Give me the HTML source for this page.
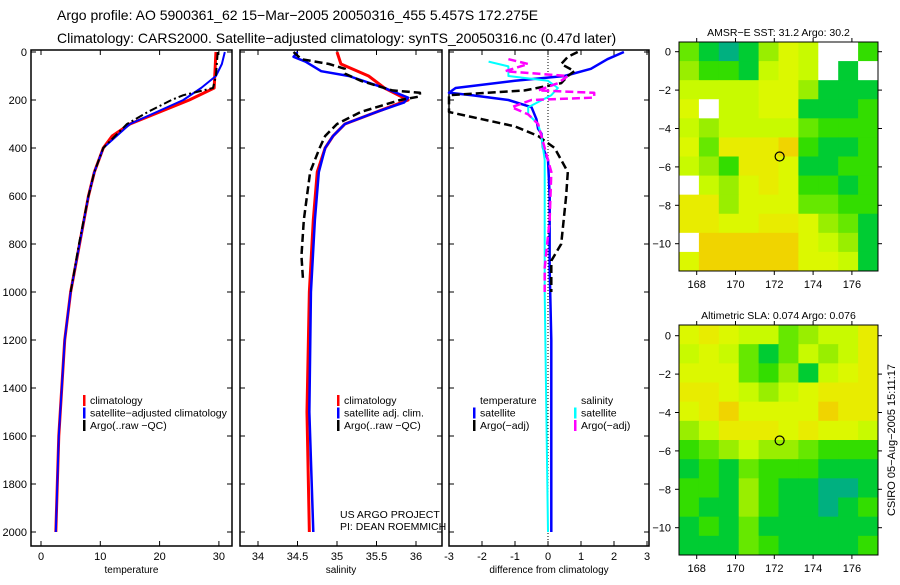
<!DOCTYPE html>
<html><head><meta charset="utf-8"><style>
body{margin:0;background:#fff;width:900px;height:580px;overflow:hidden}
svg{font-family:"Liberation Sans",sans-serif}
</style></head><body>
<svg id="c" width="900" height="580">
<text x="57" y="20" font-size="14">Argo profile: AO 5900361_62 15−Mar−2005 20050316_455 5.457S 172.275E</text>
<text x="57" y="43" font-size="14">Climatology: CARS2000. Satellite−adjusted climatology: synTS_20050316.nc (0.47d later)</text>
</svg>
<script>
// ---- data ----
const tClimD=[0,150,200,250,300,350,400,500,600,800,1000,1200,1400,1600,2000];
const tClimV=[29.5,29.2,25,20,15,12,10.5,9,8,6.5,5,4,3.5,3,2.5];
const tSatD=[0,50,100,150,200,250,300,400,500,600,800,1000,1200,1400,1600,2000];
const tSatV=[31,30.5,29.5,27,24,19.5,15,10.5,9,8,6.5,5,4,3.5,3,2.5];
const tArgoD=[0,100,150,180,200,250,300,400,500,600,800,1000];
const tArgoV=[29.8,29.5,29,24,22,18,14.5,10.5,9,8,6.4,5];
const sClimD=[0,50,100,150,200,250,300,350,400,500,700,1000,1500,2000];
const sClimV=[35,35.05,35.4,35.6,35.9,35.5,35.1,34.95,34.85,34.75,34.7,34.65,34.62,34.65];
const sSatD=[0,20,40,80,100,150,190,210,250,300,350,400,500,700,1000,1500,2000];
const sSatV=[34.5,34.45,34.6,34.8,35.15,35.6,35.9,35.85,35.5,35.1,34.95,34.85,34.77,34.72,34.67,34.65,34.7];
const sArgoD=[0,30,50,70,90,120,160,170,185,200,250,300,350,400,500,700,850,950];
const sArgoV=[34.45,34.55,34.9,35.1,35.1,35.3,35.7,36.05,36.05,35.8,35.3,35.0,34.85,34.78,34.66,34.58,34.55,34.57];
const dTSatD=[0,30,70,100,120,150,170,180,200,230,280,320,340,400,450,600,900,1200,2000];
const dTSatV=[2.3,1.8,1.3,0.5,-1,-2.8,-3,-2.3,-1.2,-0.5,-0.35,-0.3,-0.2,-0.15,0,0.05,0.05,0.1,0.1];
const dTArgoD=[0,20,50,80,100,130,160,180,250,280,310,350,400,450,500,600,800,870,1000];
const dTArgoV=[0.9,0.6,0.4,0.8,0.6,0.4,-0.7,-3,-3,-2,-1,-0.3,0.2,0.4,0.6,0.55,0.4,0.1,0.1];
const dSSatD=[40,60,100,120,150,180,230,260,300,350,450,600,1000,2000];
const dSSatV=[-1.8,-1.2,-1.2,0,0.3,0.1,-0.6,-0.6,-0.3,-0.2,-0.1,-0.1,-0.1,0];
const dSArgoD=[30,50,80,100,130,160,170,190,200,230,260,300,400,500,700,900,1000];
const dSArgoV=[-1.2,-0.6,-1.3,0.6,0.3,-0.3,1.4,1.4,-0.5,-1.1,-0.6,-0.3,-0.1,0.1,0.05,-0.1,-0.1];
const depthTicks=[0,200,400,600,800,1000,1200,1400,1600,1800,2000];
const tTicks=[0,10,20,30];
const sTicks=[34,34.5,35,35.5,36];
const sTickLabels=["34","34.5","35","35.5","36"];
const dTicks=[-3,-2,-1,0,1,2,3];
const map1=["3101465ww2","4221565w1w","5555664111","6w55661112","5455553222","6377782112","5427761122","w546762212","7746663322","7766776431","w888886541","6888886651"];
const map2=["6765534557","5653135457","6663241567","7765456777","6786666877","4577767665","2345443222","1213222111","2214211001","2114211012","1213111111","1113211112"];
const lonTicks=[168,170,172,174,176];
const latTicks=[0,-2,-4,-6,-8,-10];
// ---- drawing ----
const NS="http://www.w3.org/2000/svg",svg=document.getElementById('c');
function mk(t,a,p){const e=document.createElementNS(NS,t);for(const k in a)e.setAttribute(k,a[k]);(p||svg).appendChild(e);return e;}
const yD=d=>52+d*0.24;
function panel(name,x0,x1,xf,ticks,labels,xlabel,showY){
  const g=mk('g',{});
  
  
  const r=mk('rect',{x:x0,y:50,width:x1-x0,height:496,fill:'none',stroke:'#000','stroke-width':1.5},g);
  
  
  ticks.forEach((v,i)=>{const x=xf(v);
    mk('line',{x1:x,x2:x,y1:546,y2:541,stroke:'#000'},g);mk('line',{x1:x,x2:x,y1:50,y2:55,stroke:'#000'},g);
    const t=mk('text',{x:x,y:560,'font-size':11,'text-anchor':'middle'},g);t.textContent=labels[i];
    
    });
  depthTicks.forEach(d=>{const y=yD(d);
    mk('line',{x1:x0,x2:x0+5,y1:y,y2:y,stroke:'#000'},g);mk('line',{x1:x1,x2:x1-5,y1:y,y2:y,stroke:'#000'},g);
    if(showY){const t=mk('text',{x:x0-4,y:y+4,'font-size':11,'text-anchor':'end'},g);t.textContent=d;
    
    }});
  const xl=mk('text',{x:(x0+x1)/2,y:573,'font-size':10,'text-anchor':'middle'},g);xl.textContent=xlabel;
  
  
}
function line(name,D,V,xf,col,w,dash){
  const p=mk('polyline',{points:D.map((d,i)=>xf(V[i])+','+yD(d)).join(' '),fill:'none',stroke:col,'stroke-width':w,'stroke-dasharray':dash||'none','stroke-linejoin':'round'});
  
  
}
const xT=v=>41+v*5.93, xS=v=>337+(v-35)*79, xDf=v=>548+v*33;
panel('temperature-panel',31,232,xT,tTicks,tTicks.map(String),'temperature',true);
panel('salinity-panel',240,442,xS,sTicks,sTickLabels,'salinity',false);
panel('difference-panel',449,649,xDf,dTicks,dTicks.map(String),'difference from climatology',false);
const zl=mk('line',{x1:xDf(0),x2:xDf(0),y1:50,y2:546,stroke:'#000','stroke-dasharray':'1,2'});


line('temp-climatology',tClimD,tClimV,xT,'#f00',3);
line('temp-satellite',tSatD,tSatV,xT,'#00f',2);
line('temp-argo',tArgoD,tArgoV,xT,'#000',2,'8,3,2,3');
line('sal-climatology',sClimD,sClimV,xS,'#f00',3);
line('sal-satellite',sSatD,sSatV,xS,'#00f',2.5);
line('sal-argo',sArgoD,sArgoV,xS,'#000',2.5,'8,4');
line('diff-temp-satellite',dTSatD,dTSatV,xDf,'#00f',2.5);
line('diff-temp-argo',dTArgoD,dTArgoV,xDf,'#000',2.5,'8,4');
line('diff-sal-satellite',dSSatD,dSSatV,xDf,'#0ff',2);
line('diff-sal-argo',dSArgoD,dSArgoV,xDf,'#f0f',2.5,'8,4');
function legend(items,x,y){items.forEach((it,i)=>{const yy=y+i*12.5;
  if(it[1]){const m=mk('rect',{x:x,y:yy-9,width:2.5,height:11,fill:it[1]});
  
  }
  const t=mk('text',{x:x+7,y:yy,'font-size':10.5});t.textContent=it[0];
  
  });}
legend([['climatology','#f00'],['satellite−adjusted climatology','#00f'],['Argo(..raw −QC)','#000']],83,404);
legend([['climatology','#f00'],['satellite adj. clim.','#00f'],['Argo(..raw −QC)','#000']],337,404);
legend([['temperature',null],['satellite','#00f'],['Argo(−adj)','#000']],473,404);
legend([['salinity',null],['satellite','#0ff'],['Argo(−adj)','#f0f']],574,404);
[['US ARGO PROJECT',518],['PI: DEAN ROEMMICH',530]].forEach(a=>{const t=mk('text',{x:340,y:a[1],'font-size':10.5});t.textContent=a[0];
  
  });
const pal={'0':'#00b080','1':'#00cc33','2':'#33dd00','3':'#66e800','4':'#99ee00','5':'#c8fa00','6':'#dcf800','7':'#e8ec00','8':'#f0d400','9':'#f0a800','w':'#fff'};
function map(name,grid,top,bot,lat0,title){
  const x0=679,x1=878,lonf=v=>696.7+(v-168)*19.4,latf=v=>lat0-v*19.2;
  const g=mk('g',{});
  
  
  const cw=(x1-x0)/grid[0].length,ch=(bot-top)/grid.length;
  grid.forEach((row,r)=>[...row].forEach((c,k)=>{const cell=mk('rect',{x:x0+k*cw,y:top+r*ch,width:cw+0.5,height:ch+0.5,fill:pal[c]},g);
    
    }));
  mk('rect',{x:x0,y:top,width:x1-x0,height:bot-top,fill:'none',stroke:'#000'},g);
  lonTicks.forEach(v=>{const x=lonf(v);mk('line',{x1:x,x2:x,y1:bot,y2:bot+4,stroke:'#000'},g);mk('line',{x1:x,x2:x,y1:top,y2:top-4,stroke:'#000'},g);
    const t=mk('text',{x:x,y:bot+17,'font-size':11,'text-anchor':'middle'},g);t.textContent=v;
    
    });
  latTicks.forEach(v=>{const y=latf(v);mk('line',{x1:x0,x2:x0-4,y1:y,y2:y,stroke:'#000'},g);mk('line',{x1:x1,x2:x1+4,y1:y,y2:y,stroke:'#000'},g);
    const t=mk('text',{x:x0-8,y:y+4,'font-size':11,'text-anchor':'end'},g);t.textContent=v===0?'0':'−'+(-v);
    
    });
  const c=mk('circle',{cx:lonf(172.275),cy:latf(-5.457),r:4.5,fill:'none',stroke:'#000','stroke-width':1.2},g);
  
  
  const t=mk('text',{x:(x0+x1)/2,y:top-6,'font-size':10.5,'text-anchor':'middle'},g);t.textContent=title;
  
  
}
map('sst-map',map1,42,271,51.7,'AMSR−E SST: 31.2 Argo: 30.2');
map('sla-map',map2,325,555,335.7,'Altimetric SLA: 0.074 Argo: 0.076');
const cr=mk('text',{x:0,y:0,'font-size':11,'text-anchor':'middle',transform:'translate(895,440) rotate(-90)'});
cr.textContent='CSIRO 05−Aug−2005 15:11:17';


</script>
</body></html>
